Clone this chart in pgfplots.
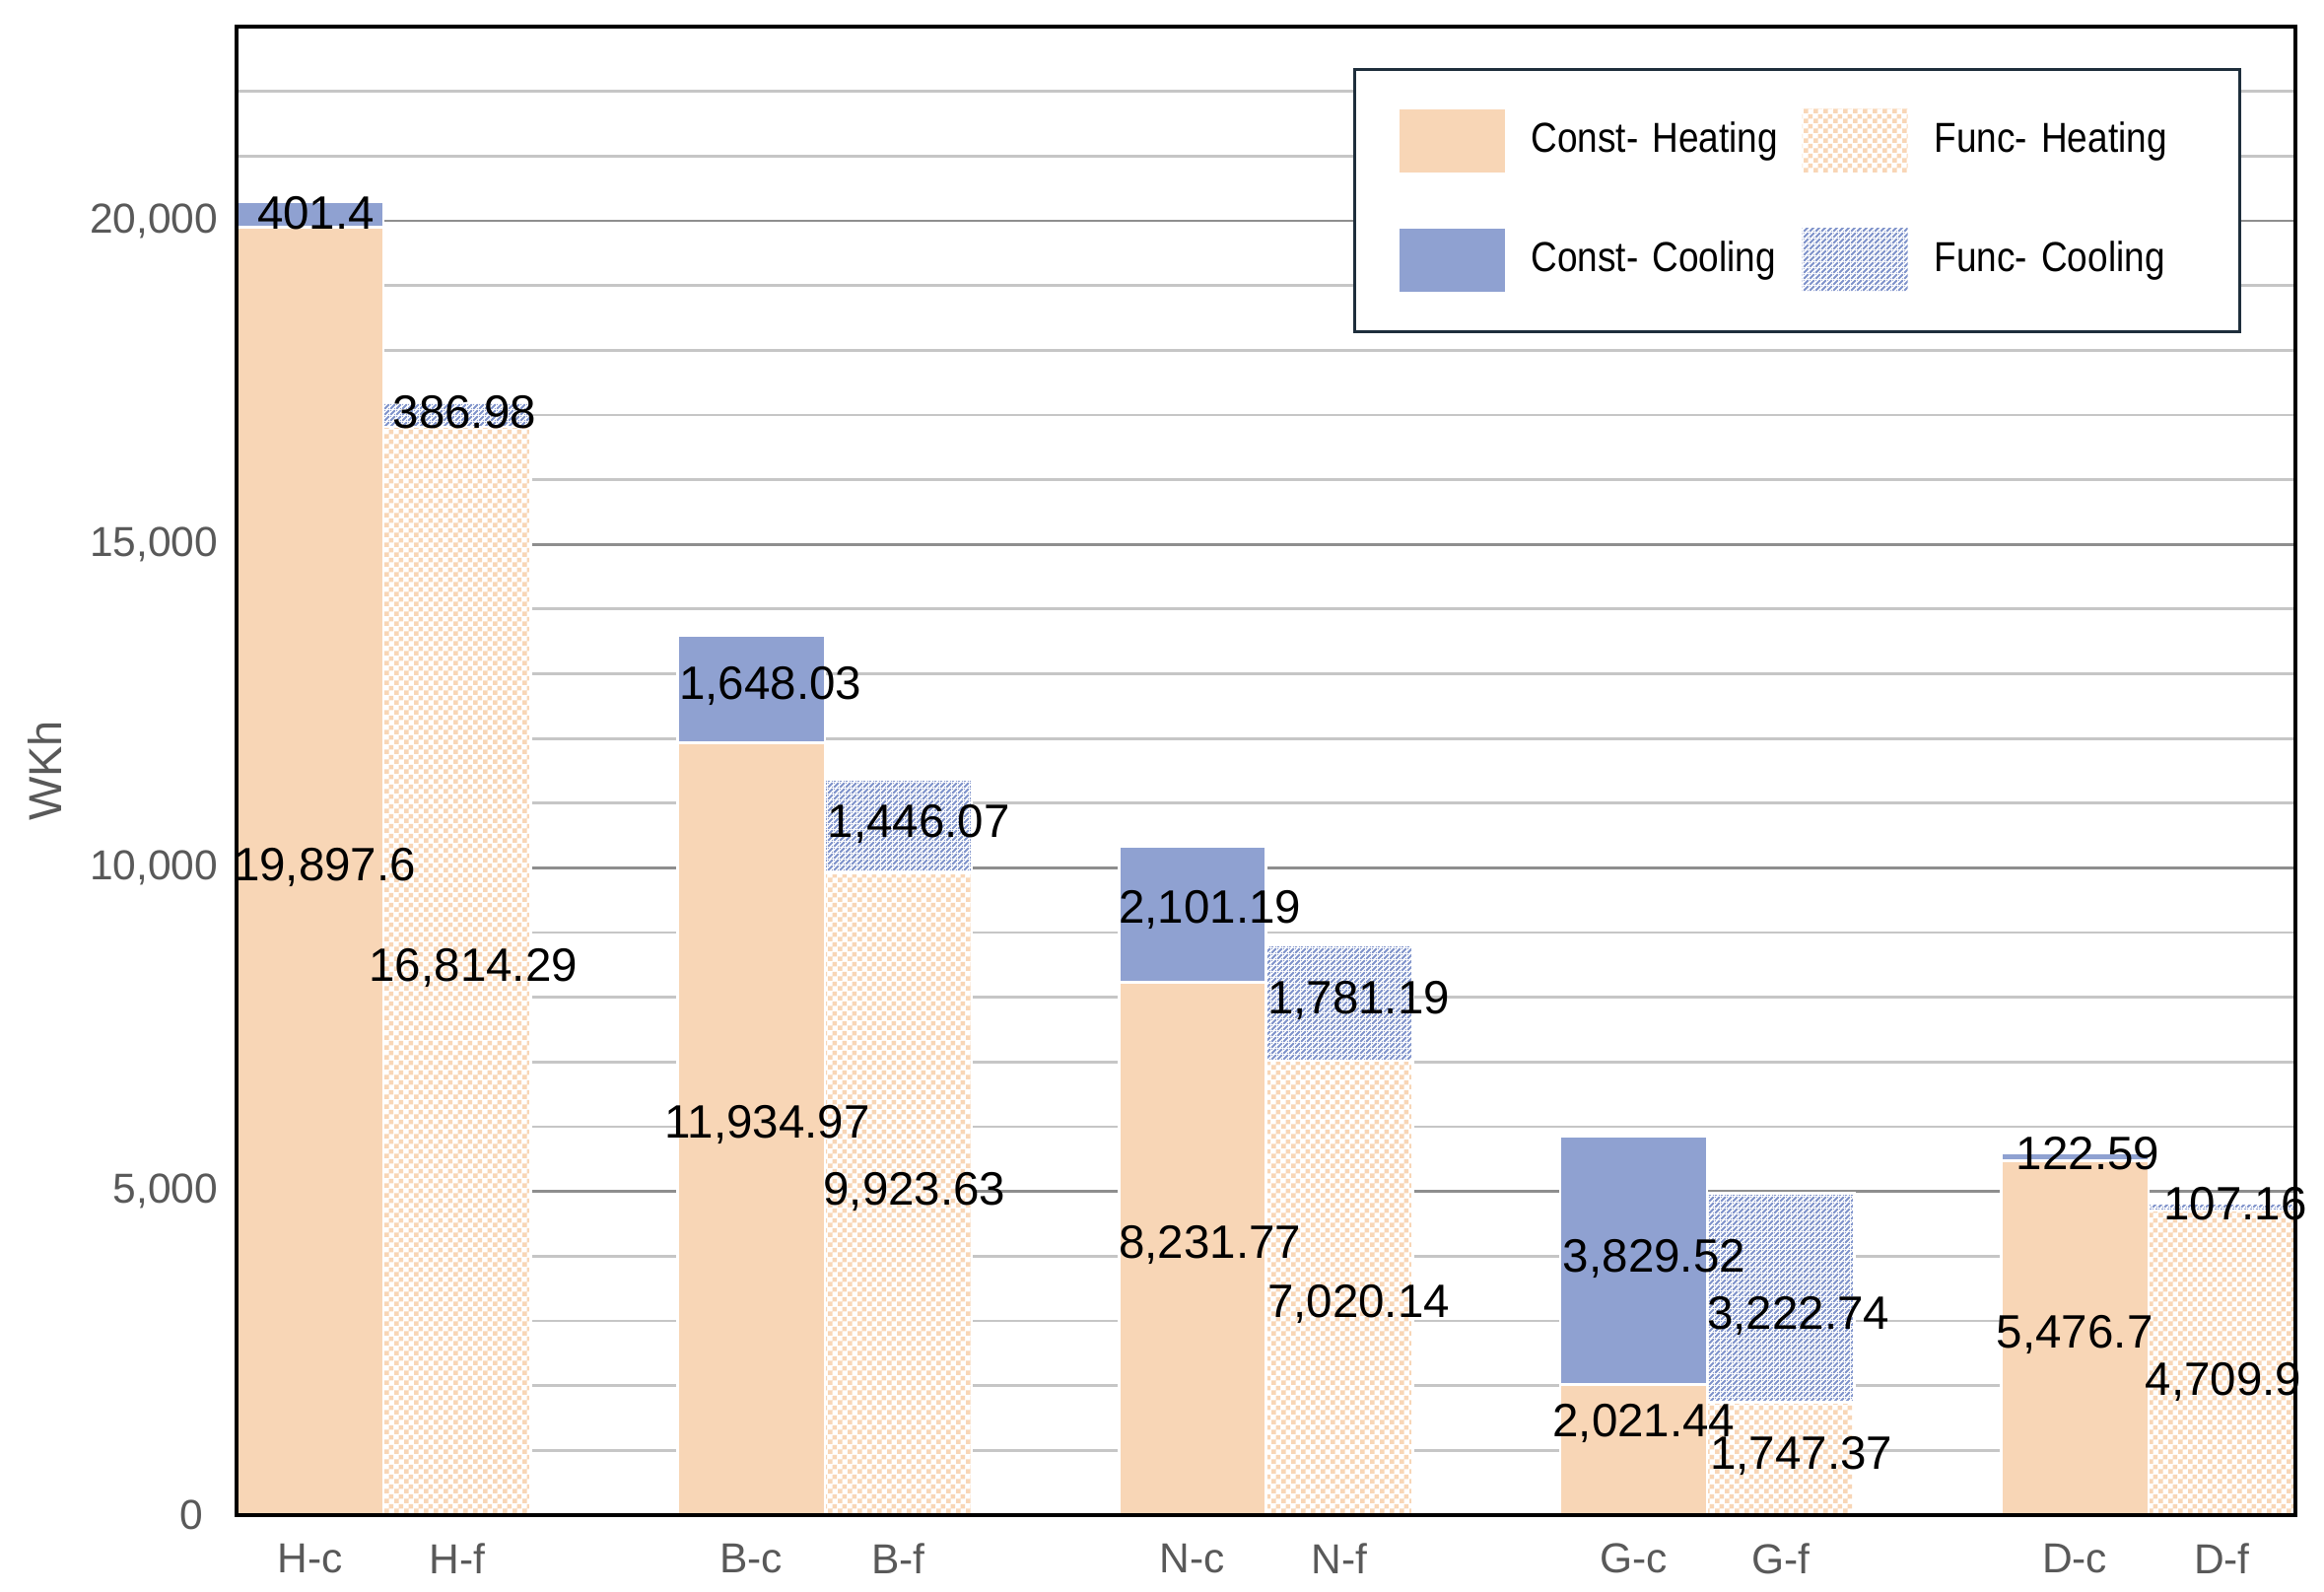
\documentclass[border=0pt]{standalone}
\usepackage{fontspec}
\setmainfont{Liberation Sans}
\newfontfamily\legfont[FakeStretch=0.87]{Liberation Sans}
\usepackage{pgfplots}
\pgfplotsset{compat=1.18}
\usetikzlibrary{patterns,patterns.meta}
\definecolor{peach}{HTML}{F8D6B6}
\definecolor{cblue}{HTML}{8FA1D1}
\definecolor{hblue}{HTML}{8093CB}
\definecolor{tickgray}{HTML}{595959}
\definecolor{minorgrid}{HTML}{C6C6C6}
\definecolor{majorgrid}{HTML}{8E8E8E}
\definecolor{legframe}{HTML}{1E2E3C}
\pgfdeclarepattern{
  name=checker,
  type=uncolored,
  bottom left={\pgfpoint{0pt}{0pt}},
  top right={\pgfpoint{2pt}{2pt}},
  tile size={\pgfpoint{2pt}{2pt}},
  code={
    \pgfpathrectangle{\pgfpoint{0pt}{0pt}}{\pgfpoint{1pt}{1pt}}
    \pgfpathrectangle{\pgfpoint{1pt}{1pt}}{\pgfpoint{1pt}{1pt}}
    \pgfusepath{fill}
  }
}
\pgfdeclarepattern{
  name=hatchblue,
  type=uncolored,
  bottom left={\pgfpoint{0pt}{0pt}},
  top right={\pgfpoint{1.2pt}{1.2pt}},
  tile size={\pgfpoint{1.2pt}{1.2pt}},
  code={
    \pgfpathmoveto{\pgfpoint{0pt}{0pt}}
    \pgfpathlineto{\pgfpoint{0.33pt}{0pt}}
    \pgfpathlineto{\pgfpoint{1.2pt}{0.87pt}}
    \pgfpathlineto{\pgfpoint{1.2pt}{1.2pt}}
    \pgfpathlineto{\pgfpoint{0.87pt}{1.2pt}}
    \pgfpathlineto{\pgfpoint{0pt}{0.33pt}}
    \pgfpathclose
    \pgfpathmoveto{\pgfpoint{0.87pt}{0pt}}
    \pgfpathlineto{\pgfpoint{1.2pt}{0pt}}
    \pgfpathlineto{\pgfpoint{1.2pt}{0.33pt}}
    \pgfpathclose
    \pgfpathmoveto{\pgfpoint{0pt}{0.87pt}}
    \pgfpathlineto{\pgfpoint{0pt}{1.2pt}}
    \pgfpathlineto{\pgfpoint{0.33pt}{1.2pt}}
    \pgfpathclose
    \pgfusepath{fill}
  }
}
\begin{document}
\begin{tikzpicture}
\begin{axis}[
  name=ax,
  scale only axis,
  width=417.8pt, height=302pt,
  xmin=0, xmax=14, ymin=0, ymax=23000,
  clip=false,
  axis line style={black, line width=0.7pt},
  xtick={0.5,1.5,3.5,4.5,6.5,7.5,9.5,10.5,12.5,13.5},
  xticklabels={H-c,H-f,B-c,B-f,N-c,N-f,G-c,G-f,D-c,D-f},
  ytick={0,5000,10000,15000,20000},
  yticklabels={{0\hspace*{3pt}},{5,000},{10,000},{15,000},{20,000}},
  minor ytick={1000,2000,...,23000},
  ymajorgrids, yminorgrids,
  major grid style={majorgrid, line width=0.55pt},
  minor grid style={minorgrid, line width=0.55pt},
  major tick length=0pt, minor tick length=0pt,
  tick style={draw=none},
  scaled y ticks=false,
  /pgf/number format/assume math mode=true,
  ticklabel style={font=\fontsize{8.5}{10}\selectfont, text=tickgray},
  yticklabel style={inner sep=0pt, xshift=-3.6pt},
  xticklabel style={inner sep=0pt, yshift=-5.6pt},
  ylabel={WKh},
  every axis y label/.style={at={(axis description cs:-0.0933,0.5)}, rotate=90, anchor=center, font=\fontsize{9.4}{11}\selectfont, text=tickgray},
  legend columns=2,
  legend image code/.code={\path[#1, draw=none] (0pt,-6.4pt) rectangle (21.4pt,6.4pt);},
  legend style={at={(axis description cs:0.9737,0.9722)}, anchor=north east, draw=legframe, line width=0.6pt, inner xsep=9pt, inner ysep=8.1pt, font=\legfont\fontsize{8.5}{10}\selectfont, /tikz/column sep=3.4pt, /tikz/every even column/.append style={column sep=2pt}, /tikz/row sep=11.4pt, nodes={inner sep=2pt, text width=51pt, align=left}},
  legend cell align=left,
]
\addlegendimage{fill=peach, draw=none}
\addlegendimage{fill=white, draw=none, postaction={pattern=checker, pattern color=peach, draw=none}}
\addlegendimage{fill=cblue, draw=none}
\addlegendimage{fill=white, draw=none, postaction={pattern=hatchblue, pattern color=hblue, draw=none}}
\legend{Const- Heating, Func- Heating, Const- Cooling, Func- Cooling}

% Const: heating + cooling (total height)
\addplot[ybar, bar width=1, bar shift=0pt, fill=cblue, draw=white, line width=0.5pt, forget plot]
  coordinates {(0.5,20299.0) (3.5,13583.0) (6.5,10332.96) (9.5,5850.96) (12.5,5599.29)};
% Func: heating + cooling (total height)
\addplot[ybar, bar width=1, bar shift=0pt, fill=white, postaction={pattern=hatchblue, pattern color=hblue}, draw=white, line width=0.5pt, forget plot]
  coordinates {(1.5,17201.27) (4.5,11369.70) (7.5,8801.33) (10.5,4970.11) (13.5,4817.06)};
% Const heating
\addplot[ybar, bar width=1, bar shift=0pt, fill=peach, draw=white, line width=0.5pt, forget plot]
  coordinates {(0.5,19897.6) (3.5,11934.97) (6.5,8231.77) (9.5,2021.44) (12.5,5476.7)};
% Func heating
\addplot[ybar, bar width=1, bar shift=0pt, fill=white, postaction={pattern=checker, pattern color=peach}, draw=white, line width=0.5pt, forget plot]
  coordinates {(1.5,16814.29) (4.5,9923.63) (7.5,7020.14) (10.5,1747.37) (13.5,4709.9)};

% value labels
\addplot[draw=none, mark=none, forget plot, nodes near coords, point meta=explicit symbolic,
  nodes near coords align={center},
  every node near coord/.append style={font=\fontsize{9.5}{11}\selectfont, text=black, inner sep=0pt}]
  table[meta=lab] {
x y lab
0.54 20115 401.4
0.60 10011 19,897.6
1.55 17045 386.98
1.61 8454 16,814.29
3.63 12807 1,648.03
3.61 6025 11,934.97
4.64 10676 1,446.07
4.61 4994 9,923.63
6.62 9347 2,101.19
6.62 4170 8,231.77
7.63 7950 1,781.19
7.63 3253 7,020.14
9.64 3963 3,829.52
9.57 1420 2,021.44
10.62 3070 3,222.74
10.64 916 1,747.37
12.59 5590 122.59
12.50 2795 5,476.7
13.59 4811 107.16
13.51 2062 4,709.9
};
\draw[black, line width=0.7pt] (rel axis cs:0,0) rectangle (rel axis cs:1,1);
\end{axis}
\pgfresetboundingbox
\path[use as bounding box] ([xshift=-48pt,yshift=-15.6pt]ax.south west) rectangle ([xshift=5.8pt,yshift=5.4pt]ax.north east);
\end{tikzpicture}
\end{document}
